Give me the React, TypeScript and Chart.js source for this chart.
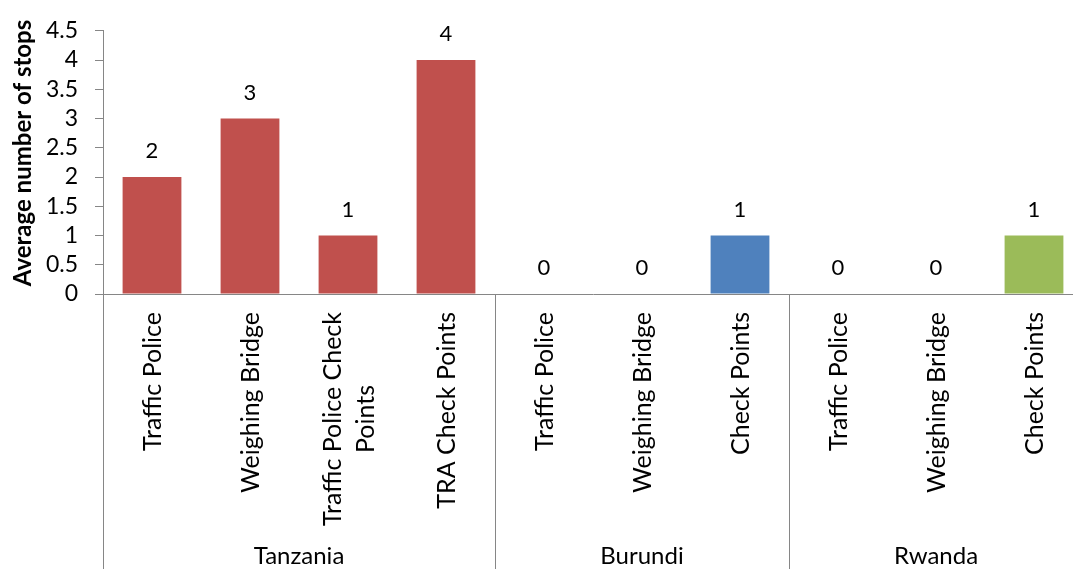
import React, { useEffect, useRef } from "react";
import { Chart, registerables } from "chart.js";

Chart.register(...registerables);

// Checkpoint types, one entry per bar (multi-line labels as arrays of lines)
const categories: string[][] = [
  ["Traffic Police"],
  ["Weighing Bridge"],
  ["Traffic Police Check", "Points"],
  ["TRA Check Points"],
  ["Traffic Police"],
  ["Weighing Bridge"],
  ["Check Points"],
  ["Traffic Police"],
  ["Weighing Bridge"],
  ["Check Points"],
];

// Average number of stops per checkpoint type
const stopValues: number[] = [2, 3, 1, 4, 0, 0, 1, 0, 0, 1];

// Countries and which country each bar belongs to
const countries: string[] = ["Tanzania", "Burundi", "Rwanda"];
const countryIndex: number[] = [0, 0, 0, 0, 1, 1, 1, 2, 2, 2];
const countryColors: string[] = ["#C0504D", "#4F81BD", "#9BBB59"];

// Value axis range
const yMin = 0;
const yMax = 4.5;
const yStep = 0.5;

const yTitle = "Average number of stops";

const FONT = "Lato, 'Open Sans', sans-serif";
const AXIS_COLOR = "#868686";
const TEXT_COLOR = "#000000";
const CANVAS_W = 1083;
const CANVAS_H = 569;

// Draws value labels, rotated category labels, country group labels and separators
const annotationsPlugin = {
  id: "groupedAnnotations",
  afterDraw(chart: any) {
    const ctx: CanvasRenderingContext2D = chart.ctx;
    const xScale = chart.scales.x;
    const area = chart.chartArea;
    const meta = chart.getDatasetMeta(0);
    const half = (xScale.getPixelForValue(1) - xScale.getPixelForValue(0)) / 2;

    ctx.save();

    // value labels above bars
    ctx.fillStyle = TEXT_COLOR;
    ctx.font = `22px ${FONT}`;
    ctx.textAlign = "center";
    ctx.textBaseline = "alphabetic";
    meta.data.forEach((bar: any, i: number) => {
      ctx.fillText(String(stopValues[i]), bar.x, bar.y - 19);
    });

    // group separator lines below the axis
    ctx.strokeStyle = AXIS_COLOR;
    ctx.lineWidth = 1;
    const bounds: number[] = [];
    countries.forEach((_, g) => {
      const idx = countryIndex.indexOf(g);
      bounds.push(xScale.getPixelForValue(idx) - half);
    });
    bounds.push(xScale.getPixelForValue(categories.length - 1) + half);
    bounds.forEach((bx) => {
      const px = Math.round(bx) + 0.5;
      ctx.beginPath();
      ctx.moveTo(px, area.bottom);
      ctx.lineTo(px, CANVAS_H);
      ctx.stroke();
    });

    // rotated category labels
    ctx.fillStyle = TEXT_COLOR;
    ctx.font = `25px ${FONT}`;
    ctx.textAlign = "center";
    ctx.textBaseline = "middle";
    const labelTop = area.bottom + 18;
    const lineGap = 33;
    categories.forEach((lines, i) => {
      const cx = xScale.getPixelForValue(i);
      const maxW = Math.max(...lines.map((l) => ctx.measureText(l).width));
      ctx.save();
      ctx.translate(cx, labelTop + maxW / 2);
      ctx.rotate(-Math.PI / 2);
      lines.forEach((line, k) => {
        const off = (k - (lines.length - 1) / 2) * lineGap;
        ctx.fillText(line, 0, off + 1);
      });
      ctx.restore();
    });

    // country labels
    ctx.font = `24px ${FONT}`;
    ctx.textBaseline = "alphabetic";
    countries.forEach((name, g) => {
      const cx = (bounds[g] + bounds[g + 1]) / 2;
      ctx.fillText(name, cx, 564);
    });

    // y axis title
    ctx.font = `bold 24px ${FONT}`;
    ctx.textBaseline = "middle";
    ctx.save();
    ctx.translate(23, 153);
    ctx.rotate(-Math.PI / 2);
    ctx.fillText(yTitle, 0, 0);
    ctx.restore();

    ctx.restore();
  },
};

export default function App() {
  const canvasRef = useRef<HTMLCanvasElement | null>(null);

  useEffect(() => {
    document.body.style.margin = "0";
    document.body.style.overflow = "hidden";
    const canvas = canvasRef.current;
    if (!canvas) return;

    const chart = new Chart(canvas, {
      type: "bar",
      data: {
        labels: categories.map((c) => c.join(" ")),
        datasets: [
          {
            data: stopValues,
            backgroundColor: countryIndex.map((g) => countryColors[g]),
            borderWidth: 0,
            barPercentage: 0.6,
            categoryPercentage: 1,
          },
        ],
      },
      options: {
        responsive: false,
        animation: false,
        devicePixelRatio: 1,
        layout: { padding: { top: 26, left: 0, right: 0, bottom: 0 } },
        plugins: {
          legend: { display: false },
          tooltip: { enabled: false },
          title: { display: false },
        },
        scales: {
          x: {
            type: "category",
            offset: true,
            grid: { display: false },
            border: { display: true, color: AXIS_COLOR, width: 1 },
            ticks: { display: false },
            afterFit(scale: any) {
              scale.height = 275;
            },
          },
          y: {
            min: yMin,
            max: yMax,
            ticks: {
              stepSize: yStep,
              autoSkip: false,
              color: TEXT_COLOR,
              font: { family: FONT, size: 23 },
              padding: 17,
              callback: (v: any) => String(Number(v)),
            },
            grid: {
              display: true,
              drawOnChartArea: false,
              drawTicks: true,
              tickLength: 8,
              color: AXIS_COLOR,
            },
            border: { display: true, color: AXIS_COLOR, width: 1 },
            afterFit(scale: any) {
              scale.width = 103;
            },
          },
        },
      },
      plugins: [annotationsPlugin],
    });

    return () => chart.destroy();
  }, []);

  return (
    <div style={{ position: "absolute", left: 0, top: 0, width: CANVAS_W, height: CANVAS_H }}>
      <canvas ref={canvasRef} width={CANVAS_W} height={CANVAS_H} />
    </div>
  );
}
